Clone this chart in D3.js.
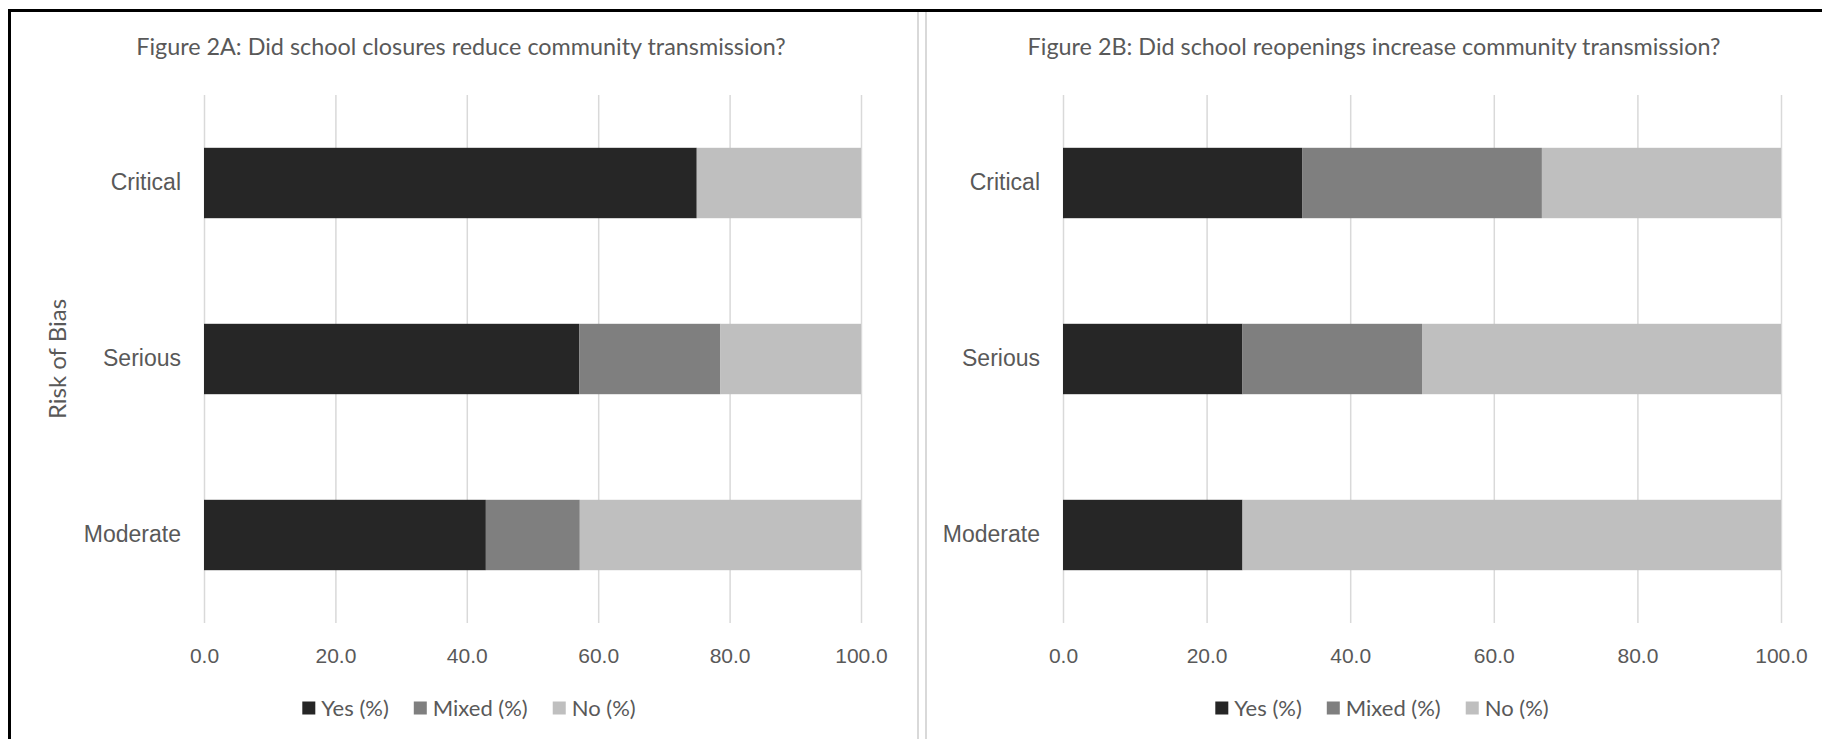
<!DOCTYPE html>
<html>
<head>
<meta charset="utf-8">
<script src="https://cdn.jsdelivr.net/npm/d3@7"></script>
<style>
  html, body { margin: 0; padding: 0; background: #fff; }
  svg { display: block; font-family: Lato, "Open Sans", sans-serif; }
  .tick text { fill: #595959; }
</style>
</head>
<body>
<div id="chart"></div>
<script>
// categories + series
const categories = ["Critical", "Serious", "Moderate"];
const seriesNames = ["Yes (%)", "Mixed (%)", "No (%)"];
const seriesColors = ["#262626", "#7f7f7f", "#bfbfbf"];

// 2A: school closures
const closuresYes   = [75.0, 57.1, 42.9];
const closuresMixed = [0.0, 21.5, 14.3];
const closuresNo    = [25.0, 21.4, 42.8];

// 2B: school reopenings
const reopenYes   = [33.3, 25.0, 25.0];
const reopenMixed = [33.4, 25.0, 0.0];
const reopenNo    = [33.3, 50.0, 75.0];

const xTicks = [0, 20, 40, 60, 80, 100];

const W = 1822, H = 739;
const tickSize = 21, labelSize = 23, legendSize = 22, axisTitleSize = 24;
const titleWidthA = 650;   // width the first title spans in the figure

let svg = d3.select("#chart").append("svg")
    .attr("width", W)
    .attr("height", H);

// frame + divider between the two charts
svg.append("rect")
    .attr("x", 9.5).attr("y", 10.5)
    .attr("width", 2000).attr("height", 2000)
    .attr("fill", "none")
    .attr("stroke", "#000")
    .attr("stroke-width", 3);
for (let dx of [918, 926]) {
    svg.append("line")
        .attr("x1", dx).attr("x2", dx)
        .attr("y1", 12).attr("y2", H)
        .attr("stroke", "#d9d9d9")
        .attr("stroke-width", 2);
}

const panels = [
    { title: "Figure 2A: Did school closures reduce community transmission?",
      yes: closuresYes, mixed: closuresMixed, no: closuresNo,
      left: 204, right: 861, center: 461, yTitle: "Risk of Bias" },
    { title: "Figure 2B: Did school reopenings increase community transmission?",
      yes: reopenYes, mixed: reopenMixed, no: reopenNo,
      left: 1063, right: 1781, center: 1374, yTitle: null }
];

const plotTop = 95, plotBottom = 623;

// work out a title size that gives the same width as the original
let probe = svg.append("text").style("font-size", "20px").text(panels[0].title);
const titleSize = 20 * titleWidthA / probe.node().getComputedTextLength();
probe.remove();

function drawPanel(p) {
    let g = svg.append("g");

    let x = d3.scaleLinear().domain([0, 100]).range([p.left, p.right]);
    let y = d3.scaleBand().domain(categories).range([plotTop, plotBottom])
        .paddingInner(0.6).paddingOuter(0.3);

    // title
    g.append("text")
        .attr("x", p.center).attr("y", 55)
        .attr("text-anchor", "middle")
        .attr("fill", "#595959")
        .style("font-size", titleSize + "px")
        .text(p.title);

    // x axis with gridlines
    let xAxis = g.append("g")
        .attr("transform", "translate(0," + plotBottom + ")")
        .call(d3.axisBottom(x).tickValues(xTicks)
            .tickFormat(d3.format(".1f"))
            .tickSizeInner(-(plotBottom - plotTop))
            .tickSizeOuter(0)
            .tickPadding(25));
    xAxis.select(".domain").remove();
    xAxis.selectAll(".tick line").attr("stroke", "#d9d9d9").attr("stroke-width", 1.5);
    xAxis.selectAll(".tick text").style("font-size", tickSize + "px").attr("font-family", null);

    // stacked bars
    let rows = categories.map((c, i) => ({ cat: c, yes: p.yes[i], mixed: p.mixed[i], no: p.no[i] }));
    let stack = d3.stack().keys(["yes", "mixed", "no"])(rows);

    g.selectAll("g.series")
        .data(stack)
        .join("g")
        .attr("class", "series")
        .attr("fill", (d, i) => seriesColors[i])
        .selectAll("rect")
        .data(d => d)
        .join("rect")
        .attr("x", d => x(d[0]))
        .attr("width", d => x(d[1]) - x(d[0]))
        .attr("y", d => y(d.data.cat))
        .attr("height", y.bandwidth());

    // category labels
    let yAxis = g.append("g")
        .attr("transform", "translate(" + p.left + ",0)")
        .call(d3.axisLeft(y).tickSize(0).tickPadding(23));
    yAxis.select(".domain").remove();
    yAxis.selectAll(".tick text").style("font-size", labelSize + "px").attr("font-family", null);

    if (p.yTitle) {
        g.append("text")
            .attr("transform", "translate(58," + ((plotTop + plotBottom) / 2) + ") rotate(-90)")
            .attr("text-anchor", "middle")
            .attr("dy", "0.35em")
            .attr("fill", "#595959")
            .style("font-size", axisTitleSize + "px")
            .text(p.yTitle);
    }

    // legend, centred under the chart
    let leg = g.append("g").attr("transform", "translate(0,708)");
    let items = leg.selectAll("g.item")
        .data(seriesNames)
        .join("g")
        .attr("class", "item");
    items.append("rect")
        .attr("y", -6.5)
        .attr("width", 13).attr("height", 13)
        .attr("fill", (d, i) => seriesColors[i]);
    items.append("text")
        .attr("x", 19)
        .attr("dy", "0.35em")
        .attr("fill", "#595959")
        .style("font-size", legendSize + "px")
        .text(d => d);

    let widths = [];
    items.each(function() { widths.push(this.getBBox().width); });
    let gap = 25;
    let total = d3.sum(widths) + gap * (widths.length - 1);
    let cx = p.center + 8 - total / 2;
    items.attr("transform", (d, i) => {
        let off = cx + d3.sum(widths.slice(0, i)) + gap * i;
        return "translate(" + off + ",0)";
    });
}

panels.forEach(drawPanel);
</script>
</body>
</html>
